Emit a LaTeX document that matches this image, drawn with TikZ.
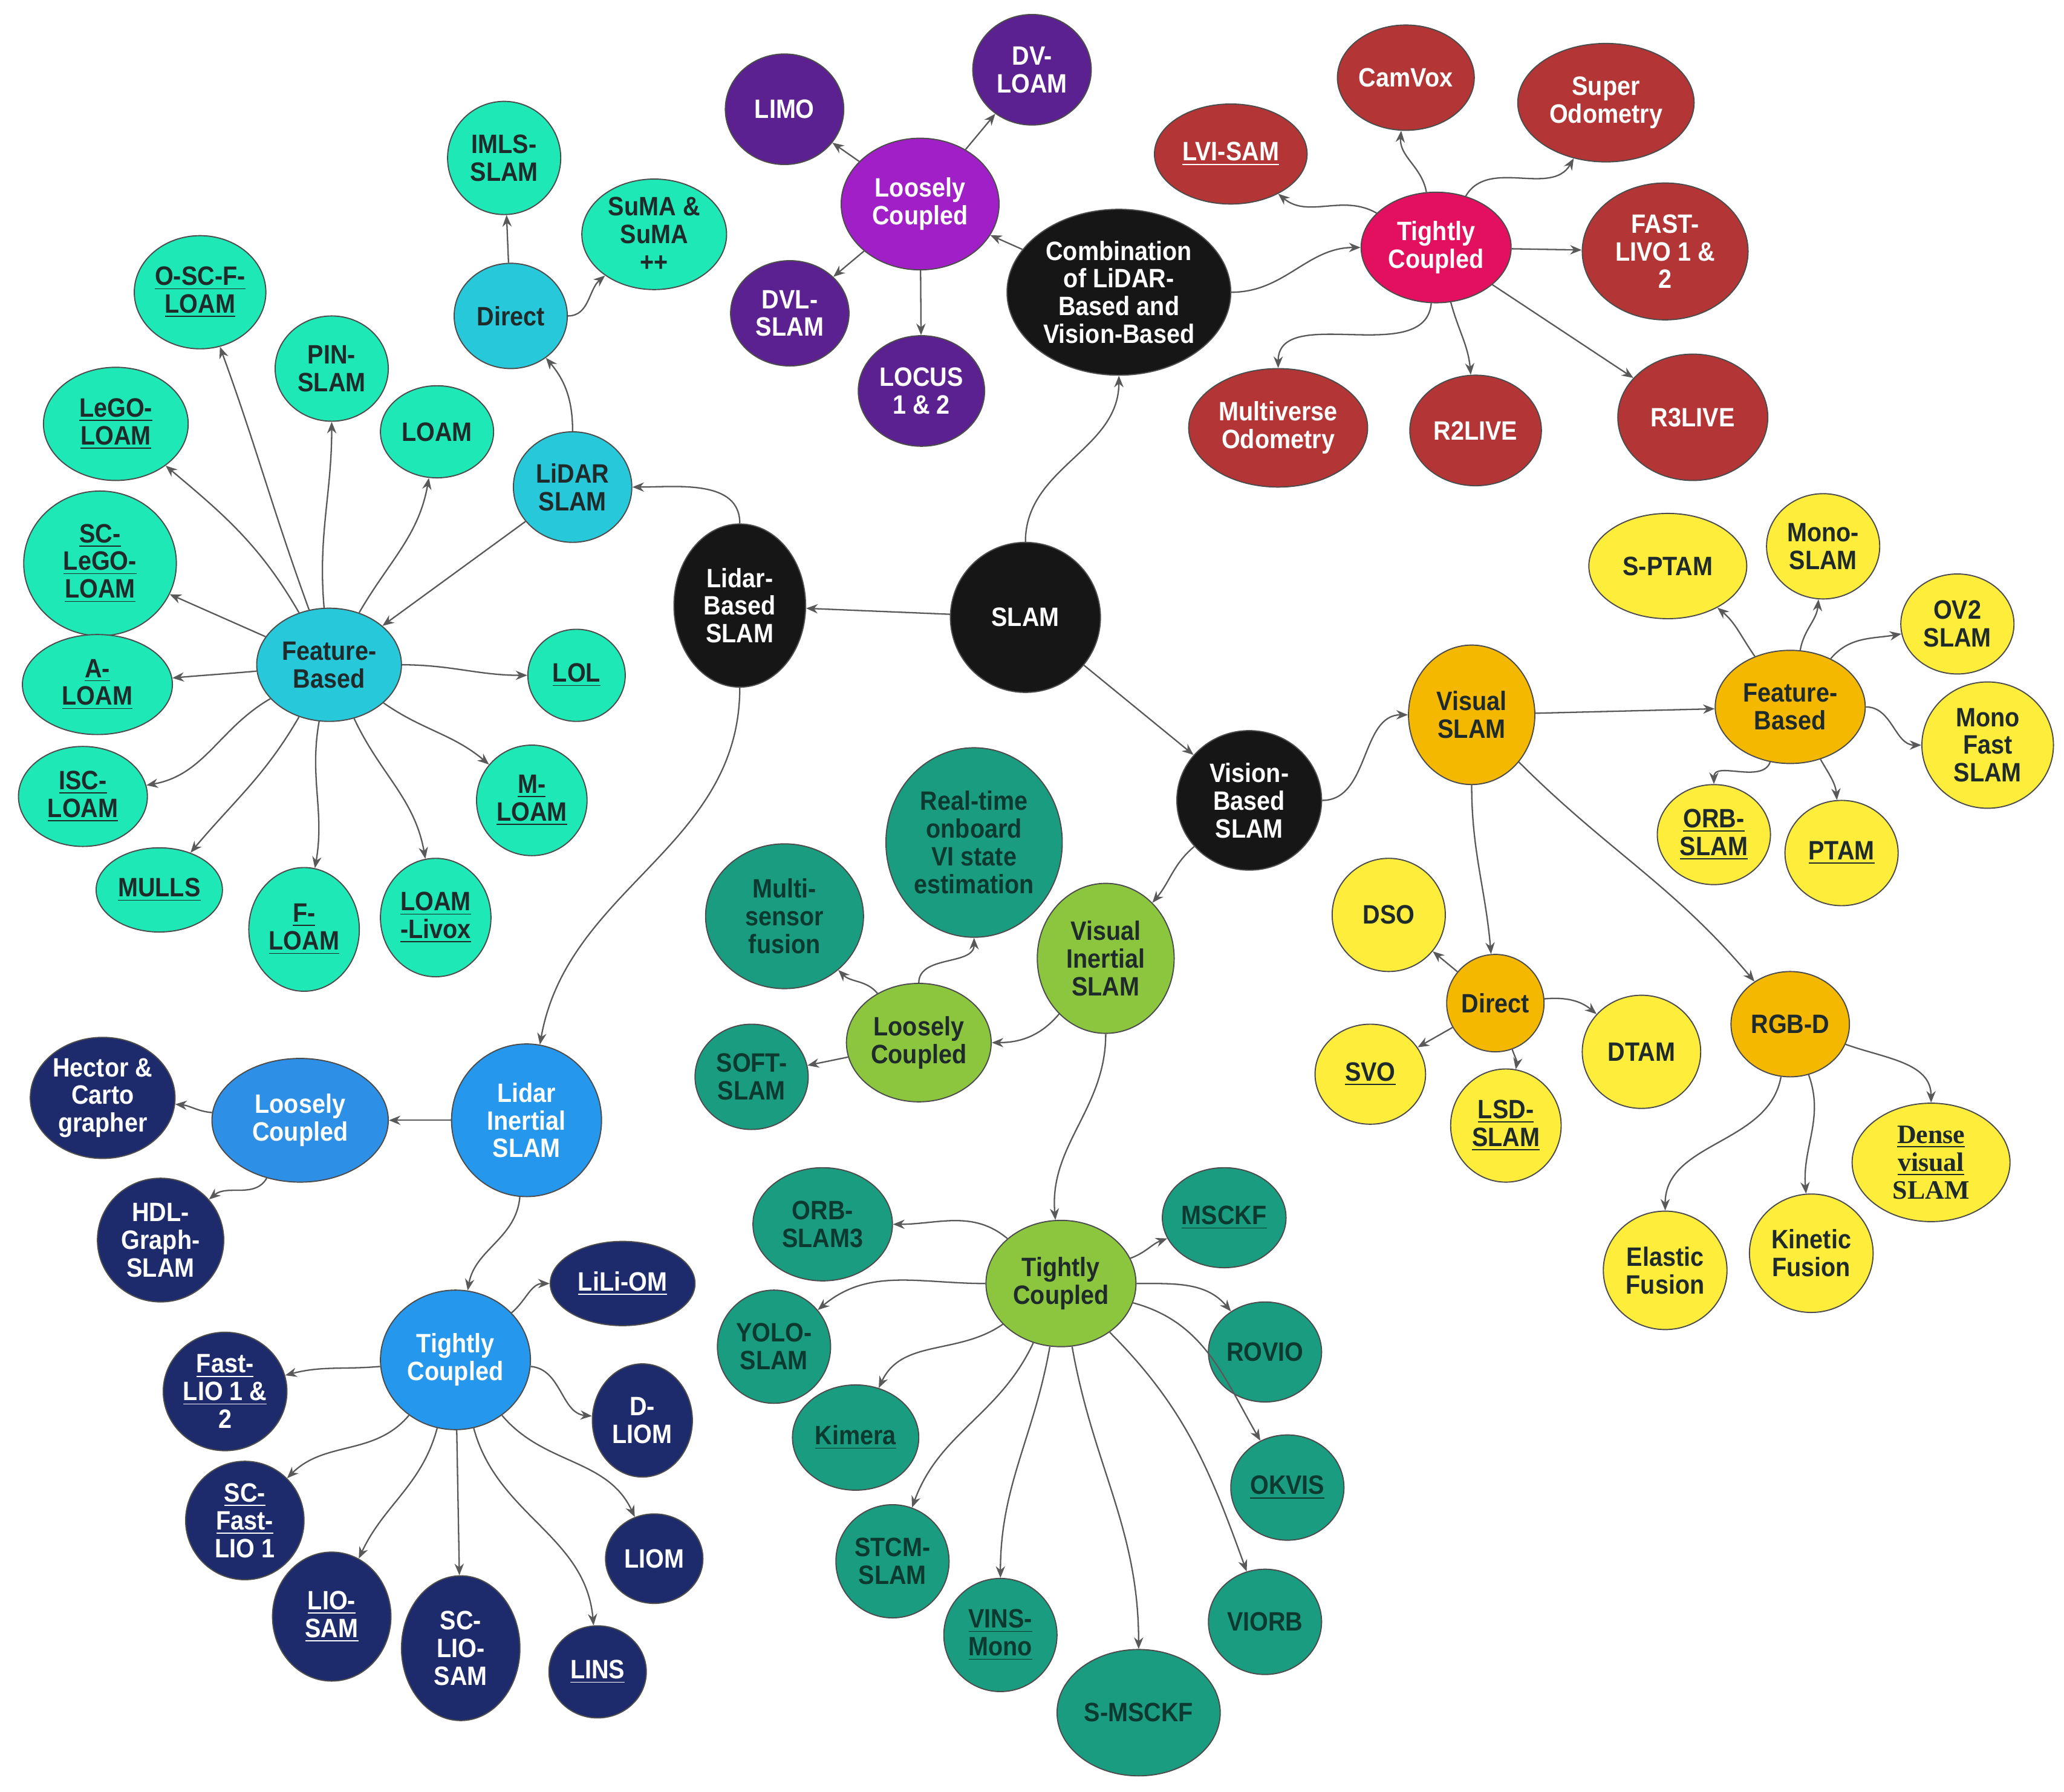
\documentclass[tikz,border=0pt]{standalone}
\usepackage{fontspec}
\setmainfont{Liberation Sans}
\newfontfamily\nf[FakeStretch=0.9]{Liberation Sans}
\newfontfamily\srf{Liberation Serif}
\usetikzlibrary{shapes.geometric,arrows.meta}
\definecolor{cBlack}{HTML}{161616}
\definecolor{cPurpleL}{HTML}{A01FC7}
\definecolor{cPurpleD}{HTML}{5B2191}
\definecolor{cPink}{HTML}{E2105E}
\definecolor{cRed}{HTML}{B33535}
\definecolor{cMint}{HTML}{1EE8B6}
\definecolor{cCyan}{HTML}{27C8DA}
\definecolor{cBlueL}{HTML}{2598EE}
\definecolor{cBlueM}{HTML}{2D8FE6}
\definecolor{cNavy}{HTML}{1D2B6D}
\definecolor{cOrange}{HTML}{F5B800}
\definecolor{cYellow}{HTML}{FFED3C}
\definecolor{cLime}{HTML}{8CC63F}
\definecolor{cTeal}{HTML}{1A9C80}
\definecolor{cDarkTxt}{HTML}{1F2A2A}
\definecolor{cTealTxt}{HTML}{0D3A30}
\tikzset{
  nd/.style={ellipse, draw=black!70, line width=0.5pt, inner sep=0pt, align=center,
             font={\nf\bfseries\fontsize{11.5}{12}\selectfont}},
  sz/.style 2 args={minimum width={#1*0.04cm}, minimum height={#2*0.04cm}},
  bk/.style={nd, fill=cBlack, text=white},
  pl/.style={nd, fill=cPurpleL, text=white},
  pd/.style={nd, fill=cPurpleD, text=white},
  pk/.style={nd, fill=cPink, text=white},
  rd/.style={nd, fill=cRed, text=white},
  mt/.style={nd, fill=cMint, text=cDarkTxt},
  cy/.style={nd, fill=cCyan, text=cDarkTxt},
  bl/.style={nd, fill=cBlueL, text=white},
  bm/.style={nd, fill=cBlueM, text=white},
  nv/.style={nd, fill=cNavy, text=white},
  og/.style={nd, fill=cOrange, text=cDarkTxt},
  yl/.style={nd, fill=cYellow, text=cDarkTxt},
  lm/.style={nd, fill=cLime, text=cDarkTxt},
  tl/.style={nd, fill=cTeal, text=cTealTxt},
  ar/.style={draw=black!65, line width=0.6pt, -{Stealth[length=5pt,width=4pt]}},
}
\begin{document}
\begin{tikzpicture}[x=0.02cm,y=0.02cm]
\useasboundingbox (0,0) rectangle (1568,-1361);
\fill[white] (0,0) rectangle (1568,-1361);

% ---------- core ----------
\node[bk,sz={57}{57}] (slam) at (779,-469) {SLAM};
\node[bk,sz={50}{62}] (lbs) at (562,-460) {Lidar-\\Based\\SLAM};
\node[bk,sz={85}{63}] (comb) at (850,-222) {Combination\\of LiDAR-\\Based and\\Vision-Based};
\node[bk,sz={55}{53}] (vbs) at (949,-608) {Vision-\\Based\\SLAM};

% ---------- combination: loosely ----------
\node[pl,sz={60}{50}] (lc1) at (699,-155) {Loosely\\Coupled};
\node[pd,sz={45}{42}] (limo) at (596,-83) {LIMO};
\node[pd,sz={45}{42}] (dvloam) at (784,-53) {DV-\\LOAM};
\node[pd,sz={45}{40}] (dvl) at (600,-238) {DVL-\\SLAM};
\node[pd,sz={48}{42}] (locus) at (700,-297) {LOCUS\\1 \& 2};

% ---------- combination: tightly ----------
\node[pk,sz={57}{42}] (tc1) at (1091,-188) {Tightly\\Coupled};
\node[rd,sz={52}{40}] (camvox) at (1068,-59) {CamVox};
\node[rd,sz={67}{45}] (superodo) at (1220,-78) {Super\\Odometry};
\node[rd,sz={58}{38}] (lvisam) at (935,-117) {\underline{LVI-SAM}};
\node[rd,sz={63}{52}] (fastlivo) at (1265,-191) {FAST-\\LIVO 1 \&\\2};
\node[rd,sz={68}{45}] (multiverse) at (971,-325) {Multiverse\\Odometry};
\node[rd,sz={50}{42}] (r2live) at (1121,-327) {R2LIVE};
\node[rd,sz={57}{48}] (r3live) at (1286,-317) {R3LIVE};

% ---------- lidar slam ----------
\node[cy,sz={45}{42}] (lidarslam) at (435,-370) {LiDAR\\SLAM};
\node[cy,sz={43}{40}] (direct1) at (388,-240) {Direct};
\node[cy,sz={55}{43}] (fb1) at (250,-505) {Feature-\\Based};
\node[mt,sz={43}{43}] (imls) at (383,-120) {IMLS-\\SLAM};
\node[mt,sz={55}{42}] (suma) at (497,-178) {SuMA \&\\SuMA\\++};
\node[mt,sz={50}{43}] (oscf) at (152,-222) {\underline{O-SC-F-}\\\underline{LOAM}};
\node[mt,sz={43}{40}] (pin) at (252,-280) {PIN-\\SLAM};
\node[mt,sz={43}{35}] (loam) at (332,-328) {LOAM};
\node[mt,sz={55}{43}] (lego) at (88,-322) {\underline{LeGO-}\\\underline{LOAM}};
\node[mt,sz={58}{55}] (sclego) at (76,-428) {\underline{SC-}\\\underline{LeGO-}\\\underline{LOAM}};
\node[mt,sz={57}{38}] (aloam) at (74,-520) {\underline{A-}\\\underline{LOAM}};
\node[mt,sz={37}{35}] (lol) at (438,-513) {\underline{LOL}};
\node[mt,sz={49}{38}] (isc) at (63,-605) {\underline{ISC-}\\\underline{LOAM}};
\node[mt,sz={42}{42}] (mloam) at (404,-608) {\underline{M-}\\\underline{LOAM}};
\node[mt,sz={48}{32}] (mulls) at (121,-676) {\underline{MULLS}};
\node[mt,sz={42}{47}] (floam) at (231,-706) {\underline{F-}\\\underline{LOAM}};
\node[mt,sz={42}{45}] (livox) at (331,-697) {\underline{LOAM}\\\underline{-Livox}};

% ---------- lidar inertial ----------
\node[bl,sz={57}{58}] (lis) at (400,-851) {Lidar\\Inertial\\SLAM};
\node[bm,sz={67}{47}] (lc2) at (228,-851) {Loosely\\Coupled};
\node[nv,sz={55}{46}] (hector) at (78,-834) {Hector \&\\Carto\\grapher};
\node[nv,sz={48}{47}] (hdl) at (122,-942) {HDL-\\Graph-\\SLAM};
\node[bl,sz={57}{53}] (tc2) at (346,-1033) {Tightly\\Coupled};
\node[nv,sz={55}{32}] (lili) at (473,-975) {\underline{LiLi-OM}};
\node[nv,sz={47}{45}] (fastlio) at (171,-1057) {\underline{Fast-}\\\underline{LIO 1 \&}\\2};
\node[nv,sz={38}{43}] (dliom) at (488,-1079) {D-\\LIOM};
\node[nv,sz={45}{45}] (scfast) at (186,-1155) {\underline{SC-}\\\underline{Fast-}\\LIO 1};
\node[nv,sz={45}{49}] (liosam) at (252,-1228) {\underline{LIO-}\\\underline{SAM}};
\node[nv,sz={45}{55}] (sclio) at (350,-1252) {SC-\\LIO-\\SAM};
\node[nv,sz={37}{34}] (liom) at (497,-1184) {LIOM};
\node[nv,sz={37}{35}] (lins) at (454,-1270) {\underline{LINS}};

% ---------- visual slam ----------
\node[og,sz={48}{53}] (vslam) at (1118,-543) {Visual\\SLAM};
\node[og,sz={57}{43}] (fb2) at (1360,-537) {Feature-\\Based};
\node[yl,sz={60}{40}] (sptam) at (1267,-430) {S-PTAM};
\node[yl,sz={43}{40}] (monoslam) at (1385,-415) {Mono-\\SLAM};
\node[yl,sz={43}{38}] (ov2) at (1487,-474) {OV2\\SLAM};
\node[yl,sz={50}{48}] (monofast) at (1510,-566) {Mono\\Fast\\SLAM};
\node[yl,sz={43}{38}] (orbslam) at (1302,-634) {\underline{ORB-}\\\underline{SLAM}};
\node[yl,sz={43}{40}] (ptam) at (1399,-648) {\underline{PTAM}};
\node[og,sz={37}{37}] (direct2) at (1136,-762) {Direct};
\node[yl,sz={43}{43}] (dso) at (1055,-695) {DSO};
\node[yl,sz={42}{38}] (svo) at (1041,-816) {\underline{SVO}};
\node[yl,sz={42}{43}] (lsd) at (1144,-855) {\underline{LSD-}\\\underline{SLAM}};
\node[yl,sz={45}{43}] (dtam) at (1247,-799) {DTAM};
\node[og,sz={45}{40}] (rgbd) at (1360,-778) {RGB-D};
\node[yl,sz={60}{45},font={\srf\bfseries\fontsize{11.5}{12}\selectfont}] (dense) at (1467,-883) {\underline{Dense}\\\underline{visual}\\SLAM};
\node[yl,sz={47}{45}] (elastic) at (1265,-965) {Elastic\\Fusion};
\node[yl,sz={47}{45}] (kinetic) at (1376,-952) {Kinetic\\Fusion};

% ---------- visual inertial ----------
\node[lm,sz={52}{57}] (vis) at (840,-728) {Visual\\Inertial\\SLAM};
\node[lm,sz={55}{45}] (lc3) at (698,-792) {Loosely\\Coupled};
\node[tl,sz={60}{55}] (multi) at (596,-696) {Multi-\\sensor\\fusion};
\node[tl,sz={67}{72}] (realtime) at (740,-640) {Real-time\\onboard\\VI state\\estimation};
\node[tl,sz={43}{40}] (soft) at (571,-818) {SOFT-\\SLAM};
\node[lm,sz={57}{48}] (tc3) at (806,-975) {Tightly\\Coupled};
\node[tl,sz={53}{43}] (orb3) at (625,-930) {ORB-\\SLAM3};
\node[tl,sz={47}{38}] (msckf) at (930,-925) {\underline{MSCKF}};
\node[tl,sz={43}{43}] (yolo) at (588,-1023) {YOLO-\\SLAM};
\node[tl,sz={43}{38}] (rovio) at (961,-1027) {ROVIO};
\node[tl,sz={48}{40}] (kimera) at (650,-1092) {\underline{Kimera}};
\node[tl,sz={43}{40}] (okvis) at (978,-1130) {\underline{OKVIS}};
\node[tl,sz={43}{43}] (stcm) at (678,-1186) {STCM-\\SLAM};
\node[tl,sz={43}{43}] (vins) at (760,-1242) {\underline{VINS-}\\\underline{Mono}};
\node[tl,sz={43}{40}] (viorb) at (961,-1232) {VIORB};
\node[tl,sz={62}{48}] (smsckf) at (865,-1301) {S-MSCKF};

% ================= edges =================
\draw[ar] (slam) -- (lbs);
\draw[ar] (slam) to[out=90,in=-90] (comb);
\draw[ar] (slam) -- (vbs);
\draw[ar] (lbs) to[out=90,in=0] (lidarslam);
\draw[ar] (lbs) to[out=-90,in=80] (lis);

\draw[ar] (lidarslam) to[out=90,in=-50] (direct1);
\draw[ar] (lidarslam) -- (fb1);
\draw[ar] (direct1) -- (imls);
\draw[ar] (direct1) to[out=0,in=-140] (suma);
\draw[ar] (fb1) to[out=110,in=-70] (oscf);
\draw[ar] (fb1) to[out=95,in=-90] (pin);
\draw[ar] (fb1) to[out=60,in=-100] (loam);
\draw[ar] (fb1) to[out=120,in=-40] (lego);
\draw[ar] (fb1) -- (sclego);
\draw[ar] (fb1) to[out=185,in=5] (aloam);
\draw[ar] (fb1) to[out=0,in=180] (lol);
\draw[ar] (fb1) to[out=-150,in=10] (isc);
\draw[ar] (fb1) to[out=-35,in=140] (mloam);
\draw[ar] (fb1) to[out=-120,in=50] (mulls);
\draw[ar] (fb1) to[out=-100,in=80] (floam);
\draw[ar] (fb1) to[out=-65,in=100] (livox);

\draw[ar] (comb) -- (lc1);
\draw[ar] (comb) to[out=0,in=180] (tc1);
\draw[ar] (lc1) -- (limo);
\draw[ar] (lc1) -- (dvloam);
\draw[ar] (lc1) -- (dvl);
\draw[ar] (lc1) -- (locus);
\draw[ar] (tc1) to[out=150,in=-40] (lvisam);
\draw[ar] (tc1) to[out=100,in=-95] (camvox);
\draw[ar] (tc1) to[out=60,in=-120] (superodo);
\draw[ar] (tc1) -- (fastlivo);
\draw[ar] (tc1) to[out=-95,in=90] (multiverse);
\draw[ar] (tc1) to[out=-75,in=95] (r2live);
\draw[ar] (tc1) -- (r3live);

\draw[ar] (vbs) to[out=0,in=180] (vslam);
\draw[ar] (vbs) to[out=-140,in=50] (vis);
\draw[ar] (vslam) -- (fb2);
\draw[ar] (vslam) to[out=-90,in=95] (direct2);
\draw[ar] (vslam) to[out=-45,in=130] (rgbd);
\draw[ar] (fb2) to[out=125,in=-40] (sptam);
\draw[ar] (fb2) to[out=80,in=-95] (monoslam);
\draw[ar] (fb2) to[out=50,in=190] (ov2);
\draw[ar] (fb2) to[out=0,in=180] (monofast);
\draw[ar] (fb2) to[out=-110,in=90] (orbslam);
\draw[ar] (fb2) to[out=-60,in=95] (ptam);
\draw[ar] (direct2) -- (dso);
\draw[ar] (direct2) -- (svo);
\draw[ar] (direct2) to[out=-70,in=80] (lsd);
\draw[ar] (direct2) to[out=5,in=140] (dtam);
\draw[ar] (rgbd) to[out=-20,in=90] (dense);
\draw[ar] (rgbd) to[out=-100,in=90] (elastic);
\draw[ar] (rgbd) to[out=-70,in=95] (kinetic);

\draw[ar] (vis) to[out=-130,in=0] (lc3);
\draw[ar] (vis) to[out=-90,in=95] (tc3);
\draw[ar] (lc3) to[out=130,in=-45] (multi);
\draw[ar] (lc3) to[out=90,in=-90] (realtime);
\draw[ar] (lc3) -- (soft);
\draw[ar] (tc3) to[out=140,in=0] (orb3);
\draw[ar] (tc3) to[out=20,in=200] (msckf);
\draw[ar] (tc3) to[out=180,in=40] (yolo);
\draw[ar] (tc3) to[out=0,in=130] (rovio);
\draw[ar] (tc3) to[out=-145,in=65] (kimera);
\draw[ar] (tc3) to[out=-15,in=120] (okvis);
\draw[ar] (tc3) to[out=-115,in=70] (stcm);
\draw[ar] (tc3) to[out=-100,in=90] (vins);
\draw[ar] (tc3) to[out=-80,in=90] (smsckf);
\draw[ar] (tc3) to[out=-45,in=110] (viorb);

\draw[ar] (lis) -- (lc2);
\draw[ar] (lis) to[out=-95,in=80] (tc2);
\draw[ar] (lc2) to[out=175,in=-5] (hector);
\draw[ar] (lc2) to[out=-120,in=40] (hdl);
\draw[ar] (tc2) to[out=40,in=180] (lili);
\draw[ar] (tc2) to[out=185,in=15] (fastlio);
\draw[ar] (tc2) to[out=-5,in=175] (dliom);
\draw[ar] (tc2) to[out=-130,in=45] (scfast);
\draw[ar] (tc2) to[out=-105,in=65] (liosam);
\draw[ar] (tc2) -- (sclio);
\draw[ar] (tc2) to[out=-50,in=115] (liom);
\draw[ar] (tc2) to[out=-75,in=95] (lins);
\end{tikzpicture}
\end{document}
